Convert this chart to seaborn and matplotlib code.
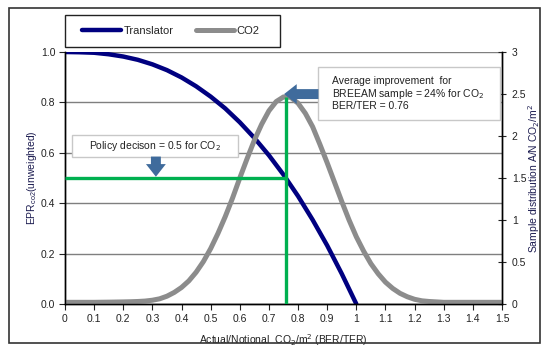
import numpy as np
import pandas as pd
import matplotlib
matplotlib.use("Agg")
import matplotlib.pyplot as plt
import seaborn as sns
from matplotlib.patches import Rectangle
from matplotlib.ticker import FormatStrFormatter

# Translator curve (EPR vs BER/TER)
translator_x = [0.0, 0.05, 0.1, 0.15, 0.2, 0.25, 0.3, 0.35, 0.4, 0.45, 0.5, 0.55, 0.6,
                0.65, 0.7, 0.75, 0.8, 0.85, 0.9, 0.95, 1.0]
translator_y = [1.0, 0.999, 0.997, 0.991, 0.982, 0.969, 0.951, 0.928, 0.899, 0.864, 0.823,
                0.776, 0.721, 0.659, 0.590, 0.513, 0.428, 0.334, 0.232, 0.120, 0.0]

# Sample distribution of BER/TER (right axis)
co2_x = [0.0, 0.05, 0.1, 0.15, 0.2, 0.225, 0.25, 0.275, 0.3, 0.325, 0.35, 0.375, 0.4,
         0.425, 0.45, 0.475, 0.5, 0.525, 0.55, 0.575, 0.6, 0.625, 0.65, 0.675, 0.7,
         0.725, 0.75, 0.775, 0.8, 0.825, 0.85, 0.875, 0.9, 0.925, 0.95, 0.975, 1.0,
         1.025, 1.05, 1.075, 1.1, 1.125, 1.15, 1.175, 1.2, 1.225, 1.25, 1.275, 1.3,
         1.35, 1.4, 1.45, 1.5]
co2_y = [0.02, 0.02, 0.02, 0.022, 0.025, 0.027, 0.03, 0.035, 0.045, 0.062, 0.093, 0.138,
         0.197, 0.275, 0.378, 0.505, 0.66, 0.84, 1.04, 1.26, 1.50, 1.73, 1.95, 2.14, 2.30,
         2.41, 2.465, 2.46, 2.39, 2.27, 2.11, 1.90, 1.68, 1.45, 1.22, 1.00, 0.80,
         0.63, 0.48, 0.36, 0.26, 0.185, 0.127, 0.086, 0.056, 0.038, 0.03, 0.025, 0.02,
         0.02, 0.02, 0.02, 0.02]

policy_level = 0.5
ber_ter_mean = 0.76
co2_peak = 2.47

x_ticks = [0, 0.1, 0.2, 0.3, 0.4, 0.5, 0.6, 0.7, 0.8, 0.9, 1.0, 1.1, 1.2, 1.3, 1.4, 1.5]
left_ticks = [0.0, 0.2, 0.4, 0.6, 0.8, 1.0]
right_ticks = [0, 0.5, 1, 1.5, 2, 2.5, 3]

navy = "#000080"
grey = "#8c8c8c"
green = "#00b050"
arrow_blue = "#3f6b9c"
label_col = "#1c1c50"

sns.set_style("white")
plt.rcParams["font.family"] = ["Liberation Sans", "DejaVu Sans"]
plt.rcParams["font.size"] = 7.5

fig = plt.figure(figsize=(5.54, 3.59), dpi=100)
ax = fig.add_axes([65 / 554, 55 / 359, 437 / 554, 252 / 359])
ax2 = ax.twinx()

trans_df = pd.DataFrame({"x": translator_x, "y": translator_y})
co2_df = pd.DataFrame({"x": co2_x, "y": co2_y})

sns.lineplot(data=trans_df, x="x", y="y", ax=ax, color=navy, lw=3.2,
             label="Translator", legend=False)
sns.lineplot(data=co2_df, x="x", y="y", ax=ax2, color=grey, lw=3.6,
             label="CO2", legend=False)

# green guide lines
ax2.plot([0, ber_ter_mean], [policy_level, policy_level], color=green, lw=2.4,
         transform=ax.transData, solid_capstyle="butt", zorder=5)
ax2.plot([ber_ter_mean, ber_ter_mean], [0, co2_peak], color=green, lw=2.4,
         solid_capstyle="butt", zorder=5)

ax.set_xlim(0, 1.5)
ax.set_ylim(0, 1.0)
ax2.set_ylim(0, 3)
ax.set_xticks(x_ticks)
ax.set_yticks(left_ticks)
ax2.set_yticks(right_ticks)
ax.xaxis.set_major_formatter(FormatStrFormatter("%g"))
ax.yaxis.set_major_formatter(FormatStrFormatter("%.1f"))
ax2.yaxis.set_major_formatter(FormatStrFormatter("%g"))

ax.grid(axis="y", color="#7f7f7f", lw=1.0)
ax.set_axisbelow(True)
for a in (ax, ax2):
    a.spines["top"].set_visible(False)
    for s in ("left", "bottom", "right"):
        a.spines[s].set_color("black")
        a.spines[s].set_linewidth(1.0)
ax.tick_params(axis="both", direction="out", length=4, width=0.8, colors="#222222",
               left=True, bottom=True, pad=3)
ax2.tick_params(axis="y", direction="inout", length=6, width=0.8, colors="#222222",
                right=True, pad=4)

ax.set_xlabel("Actual/Notional  CO$_2$/m$^2$ (BER/TER)", color="#222222", labelpad=6)
ax.set_ylabel("EPR$_{\\mathregular{co2}}$(unweighted)", color=label_col, labelpad=1.5)
ax2.set_ylabel("Sample distribution A/N CO$_2$/m$^2$", color=label_col, labelpad=0)

# annotation boxes (drawn on the top axes, in left-axis data units)
box_kw = dict(facecolor="white", edgecolor="#c8c8c8", lw=1.0, zorder=6,
              transform=ax.transData)
arrow_kw = dict(arrowstyle="simple,head_width=1.1,head_length=0.7,tail_width=0.55",
                color=arrow_blue, lw=0, shrinkA=0, shrinkB=0, mutation_scale=13)

ax2.add_patch(Rectangle((0.024, 0.583), 0.57, 0.088, **box_kw))
ax2.text(0.309, 0.627, "Policy decison = 0.5 for CO$_2$", transform=ax.transData,
         ha="center", va="center", color="#222222", zorder=7)
ax2.annotate("", xy=(0.312, 0.505), xytext=(0.312, 0.585),
             xycoords=ax.transData, textcoords=ax.transData,
             arrowprops=arrow_kw, zorder=7)

ax2.add_patch(Rectangle((0.8685, 0.730), 0.625, 0.21, **box_kw))
ax2.text(0.915, 0.835, "Average improvement  for\nBREEAM sample = 24% for CO$_2$\nBER/TER = 0.76",
         transform=ax.transData, ha="left", va="center", color="#222222",
         linespacing=1.05, zorder=7)
ax2.annotate("", xy=(0.752, 0.833), xytext=(0.87, 0.833),
             xycoords=ax.transData, textcoords=ax.transData,
             arrowprops=arrow_kw, zorder=7)

# legend box above the plot
fig.patches.append(Rectangle((65 / 554, 312 / 359), 215 / 554, 32 / 359,
                             transform=fig.transFigure, facecolor="white",
                             edgecolor="#222222", lw=1.0))
handles = ax.get_lines()[:1] + ax2.get_lines()[:1]
fig.legend(handles, ["Translator", "CO2"], loc="center",
           bbox_to_anchor=(171 / 554, 328 / 359), ncol=2, frameon=False,
           handlelength=3.5, handletextpad=0.2, columnspacing=2.0, fontsize=8)

# outer frame
fig.patches.append(Rectangle((9 / 554, 16 / 359), 531 / 554, 335 / 359,
                             transform=fig.transFigure, fill=False,
                             edgecolor="#333333", lw=1.2))

fig.savefig("out.png", dpi=100)
